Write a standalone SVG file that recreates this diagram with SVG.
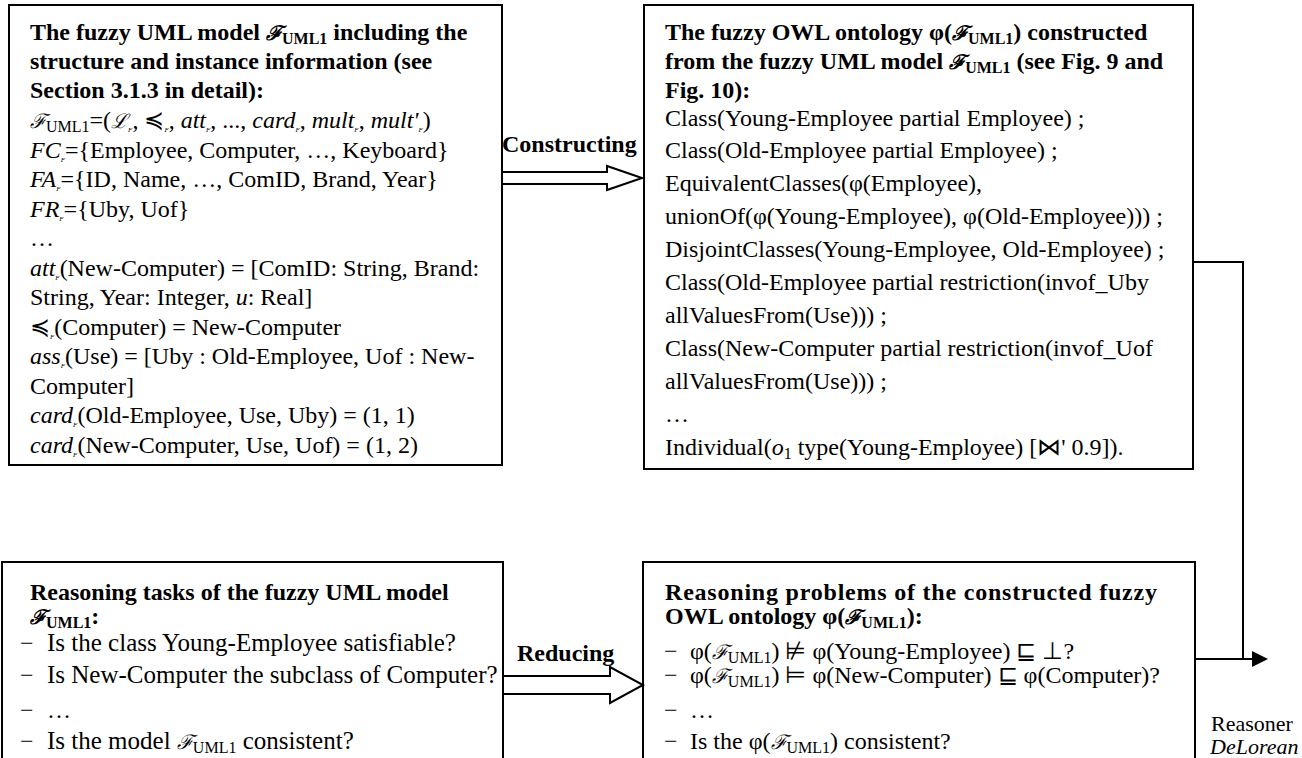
<svg xmlns="http://www.w3.org/2000/svg" width="1302" height="758" viewBox="0 0 1302 758">
<style>
.box{fill:#fff;stroke:#000;stroke-width:2}
.t{font-family:"Liberation Serif","Times New Roman",serif;font-size:24px;fill:#000}
.b{font-weight:bold}
.i{font-style:italic}
.big{font-size:25px}
.scr{font-family:"DejaVu Serif",serif;font-style:italic;font-size:20px}
.sub{font-size:16px}
.tiny{font-size:7px;font-style:italic}
.lbl{font-size:22px}
.line{fill:none;stroke:#000;stroke-width:2}
.hollow{fill:#fff;stroke:#000;stroke-width:2;stroke-linejoin:miter}
</style>
<g id="node-uml">
<rect class="box" x="9" y="5" width="493" height="460"/>
<text class="t b" x="30" y="40">The fuzzy UML model <tspan class="scr">ℱ</tspan><tspan class="sub" dy="4">UML1</tspan><tspan dy="-4"> including the</tspan></text>
<text class="t b" x="30" y="69">structure and instance information (see</text>
<text class="t b" x="30" y="98">Section 3.1.3 in detail):</text>
<text class="t" x="30" y="128"><tspan class="scr">ℱ</tspan><tspan class="sub" dy="4">UML1</tspan><tspan dy="-4">=(</tspan><tspan class="scr">ℒ</tspan><tspan class="tiny" dy="4">F</tspan><tspan dy="-4">, ≼</tspan><tspan class="tiny" dy="4">F</tspan><tspan dy="-4">, </tspan><tspan class="i">att</tspan><tspan class="tiny" dy="4">F</tspan><tspan dy="-4">, ..., </tspan><tspan class="i">card</tspan><tspan class="tiny" dy="4">F</tspan><tspan dy="-4">, </tspan><tspan class="i">mult</tspan><tspan class="tiny" dy="4">F</tspan><tspan dy="-4">, </tspan><tspan class="i">mult'</tspan><tspan class="tiny" dy="4">F</tspan><tspan dy="-4">)</tspan></text>
<text class="t" x="30" y="158"><tspan class="i">FC</tspan><tspan class="tiny" dy="4">F</tspan><tspan dy="-4">={Employee, Computer, …, Keyboard}</tspan></text>
<text class="t" x="30" y="187"><tspan class="i">FA</tspan><tspan class="tiny" dy="4">F</tspan><tspan dy="-4">={ID, Name, …, ComID, Brand, Year}</tspan></text>
<text class="t" x="30" y="217"><tspan class="i">FR</tspan><tspan class="tiny" dy="4">F</tspan><tspan dy="-4">={Uby, Uof}</tspan></text>
<text class="t" x="30" y="246">…</text>
<text class="t" x="30" y="276"><tspan class="i">att</tspan><tspan class="tiny" dy="4">F</tspan><tspan dy="-4">(New-Computer) = [ComID: String, Brand:</tspan></text>
<text class="t" x="30" y="305">String, Year: Integer, <tspan class="i">u</tspan>: Real]</text>
<text class="t" x="30" y="335">≼<tspan class="tiny" dy="4">F</tspan><tspan dy="-4">(Computer) = New-Computer</tspan></text>
<text class="t" x="30" y="364"><tspan class="i">ass</tspan><tspan class="tiny" dy="4">F</tspan><tspan dy="-4">(Use) = [Uby : Old-Employee, Uof : New-</tspan></text>
<text class="t" x="30" y="394">Computer]</text>
<text class="t" x="30" y="423"><tspan class="i">card</tspan><tspan class="tiny" dy="4">F</tspan><tspan dy="-4">(Old-Employee, Use, Uby) = (1, 1)</tspan></text>
<text class="t" x="30" y="453"><tspan class="i">card</tspan><tspan class="tiny" dy="4">F</tspan><tspan dy="-4">(New-Computer, Use, Uof) = (1, 2)</tspan></text>
</g>
<g id="node-owl">
<rect class="box" x="644" y="5" width="549" height="464"/>
<text class="t b" x="665" y="40">The fuzzy OWL ontology φ(<tspan class="scr">ℱ</tspan><tspan class="sub" dy="4">UML1</tspan><tspan dy="-4">) constructed</tspan></text>
<text class="t b" x="665" y="69">from the fuzzy UML model <tspan class="scr">ℱ</tspan><tspan class="sub" dy="4">UML1</tspan><tspan dy="-4"> (see Fig. 9 and</tspan></text>
<text class="t b" x="665" y="98">Fig. 10):</text>
<text class="t" x="665" y="126">Class(Young-Employee partial Employee) ;</text>
<text class="t" x="665" y="158">Class(Old-Employee partial Employee) ;</text>
<text class="t" x="665" y="191">EquivalentClasses(φ(Employee),</text>
<text class="t" x="665" y="224">unionOf(φ(Young-Employee), φ(Old-Employee))) ;</text>
<text class="t" x="665" y="257">DisjointClasses(Young-Employee, Old-Employee) ;</text>
<text class="t" x="665" y="290">Class(Old-Employee partial restriction(invof_Uby</text>
<text class="t" x="665" y="323">allValuesFrom(Use))) ;</text>
<text class="t" x="665" y="356">Class(New-Computer partial restriction(invof_Uof</text>
<text class="t" x="665" y="389">allValuesFrom(Use))) ;</text>
<text class="t" x="665" y="422">…</text>
<text class="t" x="665" y="455">Individual(<tspan class="i">o</tspan><tspan class="sub" dy="4">1</tspan><tspan dy="-4"> type(Young-Employee) [⋈' 0.9]).</tspan></text>
</g>
<g id="node-tasks">
<rect class="box" x="2" y="562" width="501" height="210"/>
<text class="t b" x="30" y="600">Reasoning tasks of the fuzzy UML model</text>
<text class="t b" x="30" y="624"><tspan class="scr">ℱ</tspan><tspan class="sub" dy="4">UML1</tspan><tspan dy="-4">:</tspan></text>
<text class="t" x="20" y="651">−</text><text class="t big" x="47" y="651">Is the class Young-Employee satisfiable?</text>
<text class="t" x="20" y="683">−</text><text class="t big" x="47" y="683">Is New-Computer the subclass of Computer?</text>
<text class="t" x="20" y="718">−</text><text class="t" x="47" y="718">…</text>
<text class="t" x="20" y="749">−</text><text class="t big" x="47" y="749">Is the model <tspan class="scr">ℱ</tspan><tspan class="sub" dy="4">UML1</tspan><tspan dy="-4"> consistent?</tspan></text>
</g>
<g id="node-problems">
<rect class="box" x="643" y="562" width="552" height="210"/>
<text class="t b" x="665" y="600" textLength="492" lengthAdjust="spacing">Reasoning problems of the constructed fuzzy</text>
<text class="t b" x="665" y="624">OWL ontology φ(<tspan class="scr">ℱ</tspan><tspan class="sub" dy="4">UML1</tspan><tspan dy="-4">):</tspan></text>
<text class="t" x="664" y="659">−</text><text class="t" x="690" y="659">φ(<tspan class="scr">ℱ</tspan><tspan class="sub" dy="4">UML1</tspan><tspan dy="-4">) ⊭ φ(Young-Employee) ⊑ ⊥?</tspan></text>
<text class="t" x="664" y="683">−</text><text class="t" x="690" y="683">φ(<tspan class="scr">ℱ</tspan><tspan class="sub" dy="4">UML1</tspan><tspan dy="-4">) ⊨ φ(New-Computer) ⊑ φ(Computer)?</tspan></text>
<text class="t" x="664" y="718">−</text><text class="t" x="690" y="718">…</text>
<text class="t" x="664" y="749">−</text><text class="t" x="690" y="749">Is the φ(<tspan class="scr">ℱ</tspan><tspan class="sub" dy="4">UML1</tspan><tspan dy="-4">) consistent?</tspan></text>
</g>
<g id="connectors">
<polygon class="hollow" points="502,172 607,172 607,166 642,178 607,190 607,184 502,184"/>
<text class="t b" x="502" y="152">Constructing</text>
<polygon class="hollow" points="503,676 610,676 610,667 643,685 610,703 610,694 503,694"/>
<text class="t b" x="517" y="661">Reducing</text>
<polyline class="line" points="1193,262 1243,262 1243,659"/>
<line class="line" x1="1195" y1="659" x2="1254" y2="659"/>
<polygon points="1252,651 1268,659 1252,667" fill="#000"/>
<text class="t lbl" x="1211" y="731">Reasoner</text>
<text class="t i lbl" x="1210" y="754">DeLorean</text>
</g>
</svg>
